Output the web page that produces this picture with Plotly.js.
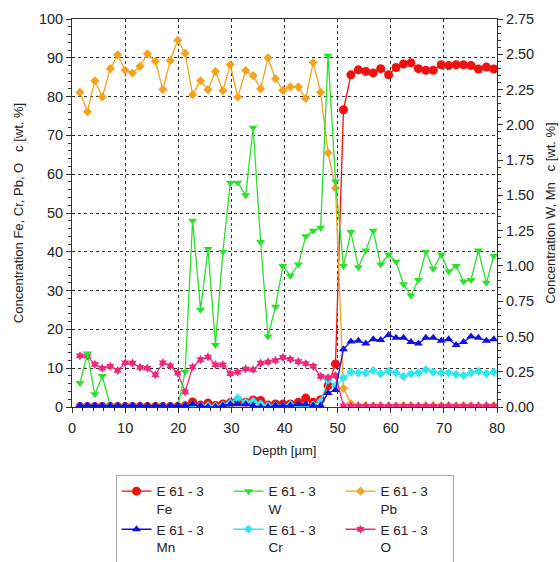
<!DOCTYPE html>
<html>
<head>
<meta charset="utf-8">
<script src="https://cdn.plot.ly/plotly-3.0.1.min.js"></script>
<style>html,body{margin:0;padding:0;background:#fff;}#chart{width:560px;height:562px;}</style>
</head>
<body>
<div id="chart"></div>
<script>
const depth = [1.5, 2.9, 4.3, 5.7, 7.2, 8.6, 10.0, 11.4, 12.8, 14.2, 15.7, 17.1, 18.5, 19.9,
  21.3, 22.7, 24.2, 25.6, 27.0, 28.4, 29.8, 31.2, 32.7, 34.1, 35.5, 36.9, 38.3, 39.7,
  41.1, 42.6, 44.0, 45.4, 46.8, 48.2, 49.6, 51.1, 52.5, 53.9, 55.3, 56.7, 58.1, 59.6,
  61.0, 62.4, 63.8, 65.2, 66.6, 68.0, 69.5, 70.9, 72.3, 73.7, 75.1, 76.5, 78.0, 79.4];

const fe = [0.1, 0.1, 0.1, 0.1, 0.1, 0.1, 0.1, 0.1, 0.1, 0.1, 0.1, 0.1, 0.1, 0.1,
  0.3, 1.3, 0.5, 1.0, 0.4, 0.8, 1.1, 1.7, 1.2, 1.8, 1.7, 0.5, 0.8, 0.8,
  0.8, 1.2, 2.3, 1.2, 1.9, 5.5, 11.1, 76.6, 85.6, 86.9, 86.5, 86.1, 87.2, 85.6,
  87.5, 88.4, 88.7, 87.2, 86.8, 86.8, 88.2, 88.0, 88.2, 88.2, 88.0, 87.1, 87.6, 87.1];

const w = [0.17, 0.38, 0.09, 0.22, 0.01, 0.0, 0.0, 0.0, 0.0, 0.0, 0.0, 0.0, 0.0, 0.0,
  0.25, 1.32, 0.69, 1.12, 0.44, 1.10, 1.59, 1.59, 1.50, 1.98, 1.17, 0.50, 0.71, 1.00,
  0.93, 1.01, 1.21, 1.25, 1.27, 2.49, 1.60, 1.00, 1.24, 0.99, 1.11, 1.25, 1.01, 1.08,
  1.03, 0.87, 0.79, 0.90, 1.10, 0.98, 1.08, 0.96, 1.00, 0.89, 0.90, 1.11, 0.88, 1.07];

const pb = [81.1, 76.1, 84.1, 79.9, 87.2, 90.8, 86.8, 86.1, 87.8, 91.0, 89.1, 81.8, 89.3, 94.5,
  91.2, 80.5, 84.1, 81.8, 86.5, 81.5, 88.2, 79.9, 86.7, 85.4, 82.0, 90.0, 84.6, 81.6,
  82.5, 82.5, 79.5, 88.8, 81.1, 65.5, 56.4, 4.8, 0.9, 0.4, 0.4, 0.3, 0.4, 0.4,
  0.3, 0.4, 0.4, 0.3, 0.4, 0.4, 0.3, 0.4, 0.3, 0.4, 0.4, 0.3, 0.4, 0.4];

const mn = [0.01, 0.01, 0.01, 0.01, 0.01, 0.01, 0.01, 0.01, 0.01, 0.01, 0.01, 0.01, 0.01, 0.01,
  0.01, 0.02, 0.01, 0.0, 0.0, 0.01, 0.02, 0.02, 0.02, 0.01, 0.0, 0.0, 0.01, 0.01,
  0.01, 0.02, 0.02, 0.01, 0.01, 0.10, 0.12, 0.41, 0.465, 0.47, 0.45, 0.48, 0.475, 0.51,
  0.49, 0.49, 0.46, 0.45, 0.49, 0.49, 0.47, 0.48, 0.44, 0.46, 0.50, 0.49, 0.47, 0.48];

const cr = [0.1, 0.1, 0.1, 0.1, 0.1, 0.1, 0.1, 0.1, 0.1, 0.1, 0.1, 0.1, 0.1, 0.1,
  0.2, 0.5, 0.3, 0.3, 0.2, 0.5, 1.0, 2.3, 1.2, 1.5, 0.8, 0.3, 0.3, 0.2,
  0.6, 0.2, 0.4, 0.5, 1.5, 7.0, 5.5, 7.5, 9.0, 8.8, 8.8, 9.4, 8.6, 9.2,
  8.8, 7.9, 8.6, 8.8, 9.6, 9.0, 8.8, 8.8, 8.4, 8.1, 8.8, 9.2, 8.6, 9.0];

const o = [13.2, 13.1, 11.0, 10.0, 10.5, 9.4, 11.4, 11.3, 10.2, 10.0, 8.3, 11.4, 10.6, 8.7,
  3.9, 10.3, 12.2, 12.9, 10.9, 10.9, 8.6, 9.0, 9.8, 9.6, 11.3, 11.6, 12.0, 12.8,
  12.3, 11.7, 11.2, 10.5, 7.9, 7.6, 8.1, 0.3, 0.2, 0.2, 0.2, 0.2, 0.2, 0.2,
  0.2, 0.2, 0.2, 0.2, 0.2, 0.2, 0.2, 0.2, 0.2, 0.2, 0.2, 0.2, 0.2, 0.2];

const seriesName = "E 61 - 3";
const xTicks = [0, 10, 20, 30, 40, 50, 60, 70, 80];

function tr(y, label, color, symbol, size, axis) {
  return {
    x: depth, y: y, name: seriesName + "<br>" + label,
    type: "scatter", mode: "lines+markers", yaxis: axis,
    line: {color: color, width: 1.3},
    marker: {color: color, symbol: symbol, size: size}
  };
}

const data = [
  tr(fe, "Fe", "#f01010", "circle", 9, "y"),
  tr(w, "W", "#2ee02e", "triangle-down", 8, "y2"),
  tr(pb, "Pb", "#f5a21e", "diamond", 7, "y"),
  tr(mn, "Mn", "#1010e0", "triangle-up", 8, "y2"),
  tr(cr, "Cr", "#30e6f2", "diamond", 7, "y"),
  tr(o, "O", "#f0287d", "hexagram", 7, "y")
];

const tickFont = {family: "Liberation Sans, Arial, sans-serif", size: 14.5, color: "#222"};
const titleFont = {family: "Liberation Sans, Arial, sans-serif", size: 13, color: "#222"};

const layout = {
  width: 560, height: 562,
  margin: {l: 72, r: 63, t: 19, b: 155, autoexpand: false},
  paper_bgcolor: "#fff", plot_bgcolor: "#fff",
  showlegend: true,
  xaxis: {
    range: [0, 80], tickvals: xTicks, ticks: "outside", ticklen: 5, tickcolor: "#333",
    ticklabelstandoff: 3,
    showline: true, linecolor: "#333", linewidth: 1, mirror: true,
    showgrid: true, gridcolor: "#333", griddash: "dot", gridwidth: 1, zeroline: false,
    minor: {dtick: 2, ticks: "outside", ticklen: 3, tickcolor: "#333", showgrid: false},
    tickfont: tickFont,
    title: {text: "Depth [µm]", font: titleFont, standoff: 10}
  },
  yaxis: {
    range: [0, 100], dtick: 10, ticks: "outside", ticklen: 5, tickcolor: "#333",
    showline: true, linecolor: "#333", linewidth: 1,
    showgrid: true, gridcolor: "#333", griddash: "dot", gridwidth: 1, zeroline: false,
    minor: {dtick: 2, ticks: "outside", ticklen: 3, tickcolor: "#333", showgrid: false},
    tickfont: tickFont,
    title: {text: "Concentration Fe, Cr, Pb, O\u00a0\u00a0\u00a0c [wt. %]", font: titleFont, standoff: 12}
  },
  yaxis2: {
    range: [0, 2.75], dtick: 0.25, tickformat: ".2f", overlaying: "y", side: "right",
    ticks: "outside", ticklen: 5, tickcolor: "#333",
    showline: true, linecolor: "#333", linewidth: 1,
    showgrid: false, zeroline: false,
    minor: {dtick: 0.05, ticks: "outside", ticklen: 3, tickcolor: "#333", showgrid: false},
    tickfont: tickFont,
    title: {text: "Concentration W, Mn\u00a0\u00a0\u00a0c [wt. %]", font: titleFont, standoff: 12}
  },
  legend: {
    orientation: "h", x: 0.5, xanchor: "center", y: -0.175, yanchor: "top",
    entrywidth: 67, entrywidthmode: "pixels", valign: "top",
    bordercolor: "#aaa", borderwidth: 1, bgcolor: "#fff",
    font: {family: "Liberation Sans, Arial, sans-serif", size: 13.5, color: "#222"},
    tracegroupgap: 0
  }
};

Plotly.newPlot("chart", data, layout, {displayModeBar: false, staticPlot: true});
</script>
</body>
</html>
